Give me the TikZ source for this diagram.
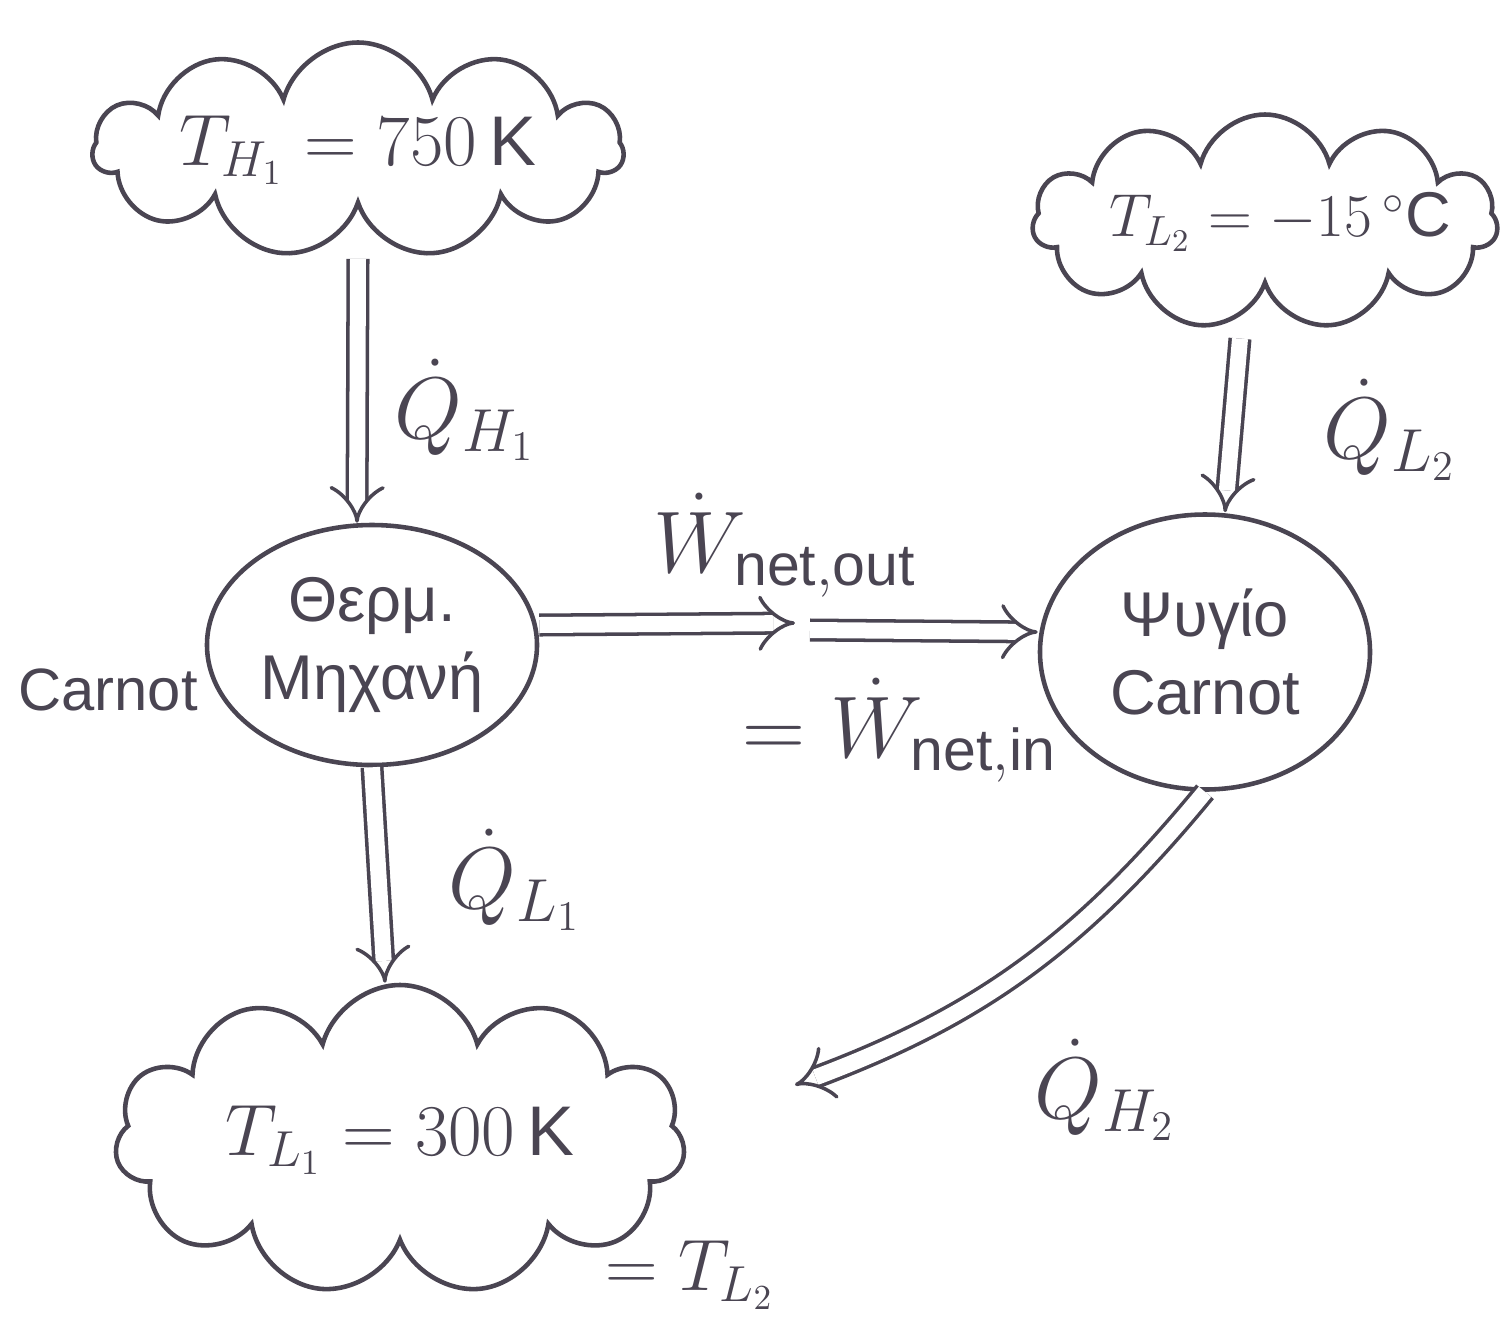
\documentclass[tikz,border=0pt]{standalone}
\usepackage{amsmath}
\usepackage{fontspec}
\setmainfont{Liberation Sans}
\usepackage{tikz}
\usetikzlibrary{shapes.symbols,shapes.geometric,arrows.meta}
\definecolor{ink}{HTML}{4A4552}
\tikzset{
  cloudbox/.style={cloud,cloud puffs=11,cloud ignores aspect,draw=ink,line width=1.3pt,inner sep=0pt},
  machine/.style={ellipse,draw=ink,line width=1.3pt,text=ink,align=center,inner sep=0pt,font=\fontsize{18}{22}\selectfont},
  flow/.style={draw=ink,double,double distance=1.6mm,line width=1pt,-{Implies}},
  lbl/.style={text=ink},
  flowlbl/.style={text=ink,font=\fontsize{24}{28}\selectfont}
}

\begin{document}
\begin{tikzpicture}[x=1mm,y=-1mm,font=\fontsize{20}{24}\selectfont]
      \useasboundingbox (0,0) rectangle (150.4,132.2);
      % reservoirs
      \node[cloudbox,minimum width=53mm,minimum height=21.5mm,
        label={[lbl]center:$T_{H_1}=750\,\mathrm{K}$}] (hot) at (35.8,15) {};
      \node[cloudbox,minimum width=46.5mm,minimum height=21.5mm,
        label={[lbl,font=\fontsize{18}{22}\selectfont,xshift=1.5mm]center:$T_{L_2}=-15\,^\circ\mathrm{C}$}] (cold) at (126.5,22.2) {};
      \node[cloudbox,minimum width=57mm,minimum height=31mm,
        label={[lbl]center:$T_{L_1}=300\,\mathrm{K}$}] (sink) at (40,114) {};
      % engine and fridge
      \node[machine,minimum width=33mm,minimum height=24mm] (eng) at (37.2,64.5) {Θερμ.\\Μηχανή};
      \node[machine,minimum width=33mm,minimum height=27.5mm] (fridge) at (120.5,65.2) {Ψυγίο\\Carnot};
      \node[lbl,font=\fontsize{17}{20}\selectfont] (carnot) at (10.8,69) {Carnot};
      \node[lbl] (eqtl) at (69,127.5) {$=T_{L_2}$};
      % heat flows
      \draw[flow] ([yshift=-5mm]hot.south) -- ([xshift=-1.5mm]eng.north);
      \node[flowlbl] (qh1) at (46.5,41) {$\dot{Q}_{H_1}$};
      \draw[flow] (eng.south) -- ([xshift=-1.5mm]sink.north);
      \node[flowlbl] (ql1) at (51.5,88) {$\dot{Q}_{L_1}$};
      \draw[flow] ([xshift=-2.5mm,yshift=-5mm]cold.south) -- ([xshift=2mm]fridge.north);
      \node[flowlbl] (ql2) at (139,43) {$\dot{Q}_{L_2}$};
      \coordinate (qh2end) at (79.5,108.5);
      \draw[flow] (fridge.south) to[bend left=15] (qh2end);
      \node[flowlbl] (qh2) at (110.5,109) {$\dot{Q}_{H_2}$};
      % work
      \coordinate (w1) at (79.5,62.3);
      \coordinate (w2) at (81,63);
      \draw[flow] ([yshift=2mm]eng.east) -- (w1);
      \draw[flow] (w2) -- ([yshift=2mm]fridge.west);
      \node[flowlbl] (wout) at (78.5,54.5) {$\dot{W}_{\mathrm{net,out}}$};
      \node[flowlbl] (win) at (90,73) {$=\dot{W}_{\mathrm{net,in}}$};
    \end{tikzpicture}
\end{document}
